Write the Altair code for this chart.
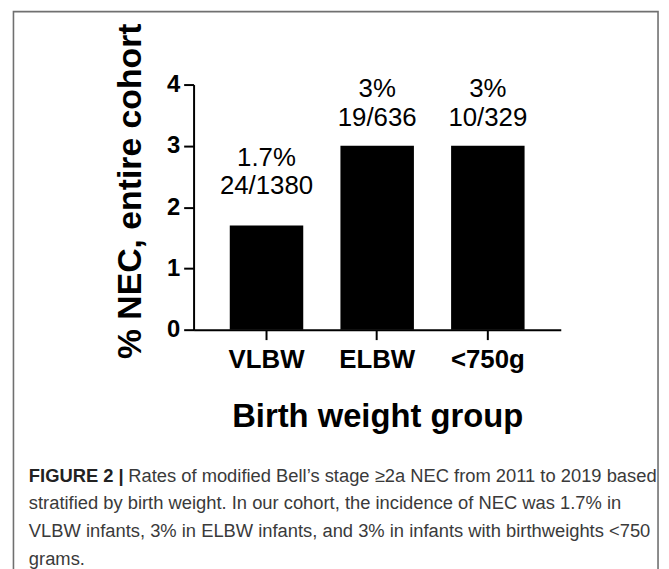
import altair as alt
import pandas as pd

# ---- data ----
groups = ["VLBW", "ELBW", "<750g"]
nec_pct = [1.7, 3.0, 3.0]
pct_labels = ["1.7%", "3%", "3%"]
count_labels = ["24/1380", "19/636", "10/329"]
y_ticks = [0, 1, 2, 3, 4]

y_title = "% NEC, entire cohort"
x_title = "Birth weight group"
caption_bold = "FIGURE 2 |"
caption_lines = [
    "Rates of modified Bell\u2019s stage \u22652a NEC from 2011 to 2019 based",
    "stratified by birth weight. In our cohort, the incidence of NEC was 1.7% in",
    "VLBW infants, 3% in ELBW infants, and 3% in infants with birthweights <750",
    "grams.",
]

FONT = "Liberation Sans"

df = pd.DataFrame({
    "group": groups,
    "pct": nec_pct,
    "pct_label": pct_labels,
    "count_label": count_labels,
})

x_enc = alt.X(
    "group:N",
    sort=groups,
    scale=alt.Scale(paddingInner=0.336, paddingOuter=0.327),
    axis=alt.Axis(
        title=x_title, labelAngle=0, labelFont=FONT, labelFontWeight="bold",
        labelFontSize=26, labelColor="black", labelPadding=7,
        tickSize=10, tickWidth=2, tickColor="black",
        domainColor="black", domainWidth=2,
        titleFont=FONT, titleFontSize=33, titleFontWeight="bold", titleColor="black",
        titleX=185, titleY=98, titleBaseline="alphabetic", titleAlign="center",
    ),
)
y_enc = alt.Y(
    "pct:Q",
    scale=alt.Scale(domain=[0, 4], nice=False),
    axis=alt.Axis(
        values=y_ticks, grid=False, title=y_title, labelFont=FONT,
        labelFontWeight="bold", labelFontSize=24, labelColor="black", labelPadding=4,
        tickSize=10, tickWidth=2, tickColor="black",
        domainColor="black", domainWidth=2,
        titleFont=FONT, titleFontSize=34, titleFontWeight="bold", titleColor="black",
        titleAngle=270, titleX=-53, titleY=107, titleBaseline="alphabetic",
        titleAlign="center",
    ),
)

base = alt.Chart(df).encode(x=x_enc, y=y_enc)
bars = base.mark_bar(color="black")


def label_layers(filter_expr, dy_count, dy_pct):
    b = base.transform_filter(filter_expr)
    t1 = b.mark_text(font=FONT, fontSize=26, color="black", baseline="alphabetic",
                     dy=dy_pct).encode(text="pct_label:N")
    t2 = b.mark_text(font=FONT, fontSize=26, color="black", baseline="alphabetic",
                     dy=dy_count).encode(text="count_label:N")
    return [t1, t2]


labels = label_layers("datum.group == 'VLBW'", -32, -60) + \
    label_layers("datum.group != 'VLBW'", -20, -49)

one = pd.DataFrame({"k": [0]})
border = alt.Chart(one).mark_rect(filled=False, stroke="#707070", strokeWidth=1.6).encode(
    x=alt.value(-181.5), x2=alt.value(468), y=alt.value(-73.5), y2=alt.value(560)
)

cap_fs = 18.5
cap_x = -166
cap_y0 = 400
cap_lh = 28
caption = [
    alt.Chart(one).mark_text(font=FONT, fontSize=cap_fs, fontWeight="bold", color="#222",
                             align="left", baseline="alphabetic").encode(
        x=alt.value(cap_x), y=alt.value(cap_y0), text=alt.value(caption_bold))
]
for i, line in enumerate(caption_lines):
    xoff = cap_x + (5.17 * cap_fs + 4.5 if i == 0 else 0)
    caption.append(
        alt.Chart(one).mark_text(font=FONT, fontSize=cap_fs, color="#3a3a3a",
                                 align="left", baseline="alphabetic").encode(
            x=alt.value(xoff), y=alt.value(cap_y0 + i * cap_lh), text=alt.value(line))
    )

chart = alt.layer(border, bars, *labels, *caption).properties(
    width=370, height=247,
    autosize=alt.AutoSizeParams(type="none"),
    padding={"left": 187, "top": 75, "right": 101, "bottom": 239},
    background="white",
).configure_view(stroke=None)

chart.save("out.html", embed_options={"renderer": "svg", "actions": False})
